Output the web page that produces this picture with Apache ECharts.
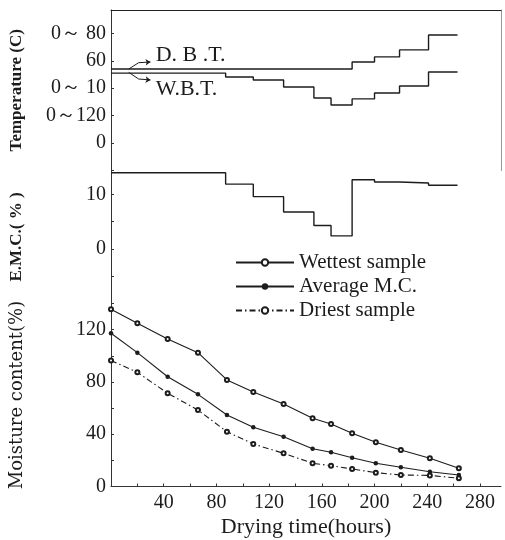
<!DOCTYPE html>
<html>
<head>
<meta charset="utf-8">
<script src="https://cdn.jsdelivr.net/npm/echarts@6/dist/echarts.min.js"></script>
<style>
html,body{margin:0;padding:0;background:#fff;}
#c{width:505px;height:540px;}
</style>
</head>
<body>
<div id="c"></div>
<script>
// ---- data ----
const hours   = [0, 20, 43, 66, 88, 108, 131, 153, 167, 183, 201, 220, 242, 264];
const wettest = [135.6, 124.9, 112.9, 102.4, 81.5, 72.3, 63.1, 52.2, 47.8, 40.7, 33.8, 27.9, 21.6, 13.9];
const average = [117.2, 102.4, 84.0, 70.5, 54.7, 45.3, 38.1, 28.9, 26.2, 22.0, 17.8, 14.7, 11.3, 8.8];
const driest  = [96.3, 87.4, 71.3, 58.5, 41.9, 32.5, 25.4, 17.8, 15.9, 13.4, 10.6, 8.8, 8.5, 6.3];

const stepHours = [0, 87, 108, 131, 154, 167, 183, 200, 219, 241, 263];
const dbt = [54, 54, 54, 54, 54, 54, 59.1, 62.8, 67.9, 78.8, 78.8];
const wbt = [51, 48.2, 46, 40.9, 32.9, 27.8, 32.2, 36.5, 41.6, 51.8, 51.8];
const emc = [14.0, 11.9, 9.6, 6.8, 4.3, 2.4, 12.7, 12.3, 12.1, 11.7, 11.7];

const tempTickLabels = {80: '0～ 80', 60: '60', 40: '0～ 10', 20: '0～120', 0: '0'};
const emcTickLabels = [0, 10];
const mcTickLabels = [0, 40, 80, 120];
const timeTickLabels = [40, 80, 120, 160, 200, 240, 280];

const seriesNames = ['Wettest sample', 'Average M.C.', 'Driest sample'];

function pairs(xs, ys){ return xs.map((x,i)=>[x, ys[i]]); }

const INK = '#1c1c1c';
const FONT = '"Liberation Serif", "Times New Roman", serif';

const axisLineStyle = {color: '#333', width: 1};
const tick = {show: true, inside: true, length: 3, lineStyle: {color: '#333'}};
const lbl = {color: INK, fontFamily: FONT, fontSize: 20, margin: 5};

const chart = echarts.init(document.getElementById('c'), null, {renderer: 'canvas'});

const option = {
  backgroundColor: '#fff',
  animation: false,
  grid: [
    {left: 107, right: 4, top: 10, height: 160.5},
    {left: 107, right: 4, top: 170.5, height: 133},
    {left: 107, right: 4, top: 303.5, height: 183}
  ],
  xAxis: [
    {gridIndex: 0, type: 'value', min: 0, max: 296, position: 'top',
     axisLine: {show: true, onZero: false, lineStyle: {color: '#222', width: 1.2}},
     axisTick: {show: false}, axisLabel: {show: false}, splitLine: {show: false}},
    {gridIndex: 1, type: 'value', min: 0, max: 296, show: false, splitLine: {show: false}},
    {gridIndex: 2, type: 'value', min: 0, max: 296, interval: 20,
     axisLine: {show: true, onZero: false, lineStyle: axisLineStyle},
     axisTick: tick,
     axisLabel: Object.assign({}, lbl, {margin: 6, showMaxLabel: false,
       formatter: v => timeTickLabels.indexOf(v) >= 0 ? String(v) : ''}),
     splitLine: {show: false},
     name: 'Drying time(hours)', nameLocation: 'middle', nameGap: 30,
     nameTextStyle: {color: INK, fontFamily: FONT, fontSize: 22}}
  ],
  yAxis: [
    {gridIndex: 0, type: 'value', min: -20, max: 97, interval: 20,
     axisLine: {show: true, onZero: false, lineStyle: axisLineStyle}, axisTick: tick,
     axisLabel: Object.assign({}, lbl, {showMaxLabel: false,
       formatter: v => (tempTickLabels[v] !== undefined ? tempTickLabels[v] : '')}),
     splitLine: {show: false},
     name: 'Temperature (C)', nameLocation: 'middle', nameGap: 86,
     nameTextStyle: {color: INK, fontFamily: FONT, fontSize: 17, fontWeight: 'bold'}},
    {gridIndex: 1, type: 'value', min: -10, max: 14.4, interval: 5,
     axisLine: {show: true, onZero: false, lineStyle: axisLineStyle}, axisTick: tick,
     axisLabel: Object.assign({}, lbl, {showMaxLabel: false,
       formatter: v => emcTickLabels.indexOf(v) >= 0 ? String(v) : ''}),
     splitLine: {show: false},
     name: 'E.M.C.( % )', nameLocation: 'middle', nameGap: 86,
     nameTextStyle: {color: INK, fontFamily: FONT, fontSize: 17, fontWeight: 'bold'}},
    {gridIndex: 2, type: 'value', min: 0, max: 140, interval: 20,
     axisLine: {show: true, onZero: false, lineStyle: axisLineStyle}, axisTick: tick,
     axisLabel: Object.assign({}, lbl, {showMaxLabel: false,
       formatter: v => mcTickLabels.indexOf(v) >= 0 ? String(v) : ''}),
     splitLine: {show: false},
     name: 'Moisture content(%)', nameLocation: 'middle', nameGap: 85,
     nameTextStyle: {color: INK, fontFamily: '"DejaVu Serif", serif', fontSize: 18}},
    {gridIndex: 0, type: 'value', position: 'right', min: 0, max: 1,
     axisLine: {show: true, onZero: false, lineStyle: {color: '#999', width: 1}},
     axisTick: {show: false}, axisLabel: {show: false}, splitLine: {show: false}}
  ],
  legend: {
    data: seriesNames,
    orient: 'vertical', left: 235, top: 252, padding: 0, itemGap: 3,
    itemWidth: 58, itemHeight: 8,
    textStyle: {color: INK, fontFamily: FONT, fontSize: 21}
  },
  series: [
    {name: 'DBT', type: 'line', xAxisIndex: 0, yAxisIndex: 0, step: 'end',
     data: pairs(stepHours, dbt), symbol: 'none', silent: true,
     lineStyle: {color: INK, width: 1.4},
     markLine: {silent: true, symbol: ['none', 'none'], label: {show: false},
       lineStyle: {color: INK, width: 1, type: 'solid'},
       data: [
         [{coord: [13.5, 54]}, {coord: [21, 58.6]}],
         [{coord: [21, 58.6]}, {coord: [30, 59.1], symbol: 'arrow', symbolSize: 5}]
       ]},
     markPoint: {silent: true, symbol: 'circle', symbolSize: 1,
       itemStyle: {color: 'rgba(0,0,0,0)'},
       label: {show: true, position: 'right', distance: 0, color: INK, fontFamily: FONT, fontSize: 22,
         formatter: 'D. B .T.'},
       data: [{coord: [33.5, 64]}]}
    },
    {name: 'WBT', type: 'line', xAxisIndex: 0, yAxisIndex: 0, step: 'end',
     data: pairs(stepHours, wbt), symbol: 'none', silent: true,
     lineStyle: {color: INK, width: 1.4},
     markLine: {silent: true, symbol: ['none', 'none'], label: {show: false},
       lineStyle: {color: INK, width: 1, type: 'solid'},
       data: [
         [{coord: [13.5, 51.5]}, {coord: [21, 46.7]}],
         [{coord: [21, 46.7]}, {coord: [30, 46], symbol: 'arrow', symbolSize: 5}]
       ]},
     markPoint: {silent: true, symbol: 'circle', symbolSize: 1,
       itemStyle: {color: 'rgba(0,0,0,0)'},
       label: {show: true, position: 'right', distance: 0, color: INK, fontFamily: FONT, fontSize: 22,
         formatter: 'W.B.T.'},
       data: [{coord: [33.5, 39]}]}
    },
    {name: 'EMC', type: 'line', xAxisIndex: 1, yAxisIndex: 1, step: 'end',
     data: pairs(stepHours, emc), symbol: 'none', silent: true,
     lineStyle: {color: INK, width: 1.4}},
    {name: seriesNames[0], type: 'line', xAxisIndex: 2, yAxisIndex: 2,
     data: pairs(hours, wettest), symbol: 'emptyCircle', symbolSize: 4,
     itemStyle: {color: INK, borderColor: INK, borderWidth: 1},
     lineStyle: {color: INK, width: 1.1}},
    {name: seriesNames[1], type: 'line', xAxisIndex: 2, yAxisIndex: 2,
     data: pairs(hours, average), symbol: 'circle', symbolSize: 4.5,
     itemStyle: {color: INK},
     lineStyle: {color: INK, width: 1.1}},
    {name: seriesNames[2], type: 'line', xAxisIndex: 2, yAxisIndex: 2,
     data: pairs(hours, driest), symbol: 'emptyCircle', symbolSize: 4,
     itemStyle: {color: INK, borderColor: INK, borderWidth: 1},
     lineStyle: {color: INK, width: 1.1, type: [6, 3, 1.5, 3]}}
  ]
};
chart.setOption(option);
</script>
</body>
</html>
